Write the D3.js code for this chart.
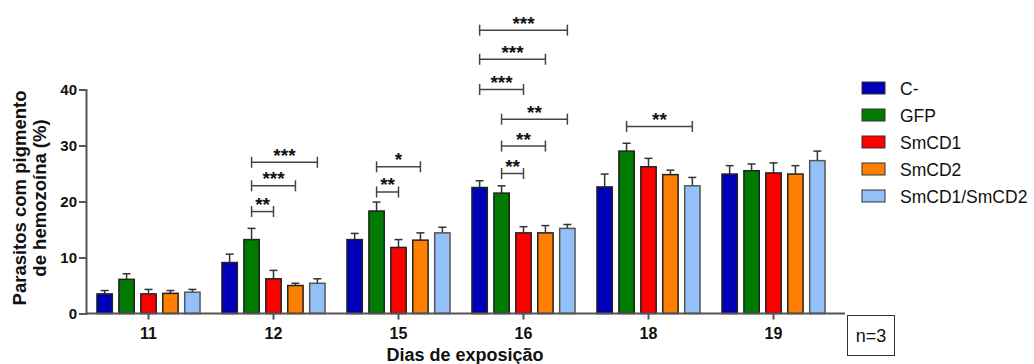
<!DOCTYPE html>
<html>
<head>
<meta charset="utf-8">
<script src="https://cdnjs.cloudflare.com/ajax/libs/d3/7.8.5/d3.min.js"></script>
<style>
  body { margin: 0; background: #fff; }
  svg { font-family: Arial, "Liberation Sans", sans-serif; }
</style>
</head>
<body>
<svg id="chart" width="1034" height="364"></svg>
<script>
// data
var days = ["11", "12", "15", "16", "18", "19"];
var groups = ["C-", "GFP", "SmCD1", "SmCD2", "SmCD1/SmCD2"];
var colors = ["#0000b8", "#007a00", "#ff0000", "#ff8000", "#94c0fa"];

// mean % per group, one array per day
var means = [
  [3.5, 6.1, 3.5, 3.6, 3.8],
  [9.1, 13.2, 6.2, 5.0, 5.4],
  [13.2, 18.3, 11.8, 13.1, 14.4],
  [22.5, 21.5, 14.4, 14.4, 15.2],
  [22.6, 29.0, 26.2, 24.8, 22.8],
  [24.9, 25.5, 25.1, 24.9, 27.3]
];
// SEM (upper error only)
var errs = [
  [0.6, 1.0, 0.8, 0.5, 0.5],
  [1.5, 2.0, 1.5, 0.4, 0.8],
  [1.1, 1.6, 1.4, 1.3, 1.0],
  [1.2, 1.3, 1.1, 1.3, 0.7],
  [2.3, 1.4, 1.5, 0.8, 1.5],
  [1.5, 1.2, 1.8, 1.5, 1.7]
];

// significance brackets: day, from group, to group, level (%), label
var signif = [
  { day: "12", a: 1, b: 2, level: 18.2, label: "**" },
  { day: "12", a: 1, b: 3, level: 22.8, label: "***" },
  { day: "12", a: 1, b: 4, level: 27.0, label: "***" },
  { day: "15", a: 1, b: 2, level: 21.7, label: "**" },
  { day: "15", a: 1, b: 3, level: 26.2, label: "*" },
  { day: "16", a: 1, b: 2, level: 25.0, label: "**" },
  { day: "16", a: 1, b: 3, level: 29.9, label: "**" },
  { day: "16", a: 1, b: 4, level: 34.7, label: "**" },
  { day: "16", a: 0, b: 2, level: 40.0, label: "***" },
  { day: "16", a: 0, b: 3, level: 45.4, label: "***" },
  { day: "16", a: 0, b: 4, level: 50.6, label: "***" },
  { day: "18", a: 1, b: 4, level: 33.4, label: "**" }
];

var yTicks = [0, 10, 20, 30, 40];

var svg = d3.select("#chart");

var x0 = d3.scaleBand().domain(days).range([86, 836]);
var x1 = d3.scaleBand().domain(d3.range(groups.length))
  .range([0, x0.bandwidth()]).paddingInner(0.3).paddingOuter(0.5);
var y = d3.scaleLinear().domain([0, 40]).range([313.5, 89.5]);

// bars + error bars
days.forEach(function(day, di) {
  var g = svg.append("g").attr("transform", "translate(" + x0(day) + ",0)");

  means[di].forEach(function(v, gi) {
    var cx = x1(gi) + x1.bandwidth() / 2;
    var top = y(v + errs[di][gi]);
    g.append("line")
      .attr("x1", cx).attr("x2", cx)
      .attr("y1", y(v)).attr("y2", top)
      .attr("stroke", "#333").attr("stroke-width", 1.5);
    g.append("line")
      .attr("x1", cx - 4).attr("x2", cx + 4)
      .attr("y1", top).attr("y2", top)
      .attr("stroke", "#333").attr("stroke-width", 1.5);
  });

  g.selectAll("rect")
    .data(means[di])
    .enter()
    .append("rect")
    .attr("x", function(d, i) { return x1(i); })
    .attr("y", function(d) { return y(d); })
    .attr("width", x1.bandwidth())
    .attr("height", function(d) { return y(0) - y(d); })
    .attr("fill", function(d, i) { return colors[i]; })
    .attr("stroke", function(d, i) { return i == 4 ? "#555" : "#222"; })
    .attr("stroke-width", 1.5);
});

// significance brackets
signif.forEach(function(s) {
  var xa = x0(s.day) + x1(s.a) + x1.bandwidth() / 2;
  var xb = x0(s.day) + x1(s.b) + x1.bandwidth() / 2;
  var yy = y(s.level);
  var b = svg.append("g").attr("stroke", "#444").attr("stroke-width", 1.5);
  b.append("line").attr("x1", xa).attr("x2", xb).attr("y1", yy).attr("y2", yy);
  b.append("line").attr("x1", xa).attr("x2", xa).attr("y1", yy - 5.5).attr("y2", yy + 5.5);
  b.append("line").attr("x1", xb).attr("x2", xb).attr("y1", yy - 5.5).attr("y2", yy + 5.5);
  svg.append("text")
    .attr("x", (xa + xb) / 2)
    .attr("y", yy - 0.5)
    .attr("text-anchor", "middle")
    .attr("font-size", "19px")
    .attr("font-weight", "bold")
    .attr("fill", "#111")
    .text(s.label);
});

// y axis
var yAxis = svg.append("g")
  .attr("transform", "translate(86,0)")
  .call(d3.axisLeft(y).tickValues(yTicks).tickSize(7).tickPadding(2));
yAxis.select(".domain").attr("stroke", "#555").attr("stroke-width", 2);
yAxis.selectAll(".tick line").attr("stroke", "#555").attr("stroke-width", 2);
yAxis.selectAll("text")
  .attr("font-size", "15px").attr("font-weight", "bold").attr("fill", "#111");

// x axis
var xAxis = svg.append("g")
  .attr("transform", "translate(0," + y(0) + ")")
  .call(d3.axisBottom(x0).tickSize(6).tickSizeOuter(0).tickPadding(8));
xAxis.select(".domain").attr("stroke", "#555").attr("stroke-width", 2)
  .attr("d", "M86,0H845");
xAxis.selectAll(".tick line").attr("stroke", "#555").attr("stroke-width", 2);
xAxis.selectAll("text")
  .attr("font-size", "16px").attr("font-weight", "bold").attr("fill", "#111");

// axis titles
var yt = svg.append("text")
  .attr("transform", "translate(26,198) rotate(-90)")
  .attr("text-anchor", "middle")
  .attr("font-size", "18.5px")
  .attr("font-weight", "bold")
  .attr("fill", "#111");
yt.append("tspan").attr("x", 0).attr("dy", 0).text("Parasitos com pigmento");
yt.append("tspan").attr("x", 0).attr("dy", 20).text("de hemozoína (%)");

svg.append("text")
  .attr("x", 465).attr("y", 361)
  .attr("text-anchor", "middle")
  .attr("font-size", "18px")
  .attr("font-weight", "bold")
  .attr("fill", "#111")
  .text("Dias de exposição");

// legend
var leg = svg.append("g").attr("transform", "translate(862,82)");
groups.forEach(function(name, i) {
  leg.append("rect")
    .attr("x", 0).attr("y", i * 27)
    .attr("width", 23).attr("height", 12)
    .attr("fill", colors[i])
    .attr("stroke", "#333").attr("stroke-width", 1);
  leg.append("text")
    .attr("x", 38).attr("y", i * 27 + 12.5)
    .attr("font-size", "17.5px")
    .attr("fill", "#111")
    .text(name);
});

// n=3 box
svg.append("rect")
  .attr("x", 847.5).attr("y", 315.5)
  .attr("width", 47).attr("height", 40)
  .attr("fill", "none").attr("stroke", "#333").attr("stroke-width", 1);
svg.append("text")
  .attr("x", 871).attr("y", 342)
  .attr("text-anchor", "middle")
  .attr("font-size", "18px")
  .attr("fill", "#111")
  .text("n=3");
</script>
</body>
</html>
